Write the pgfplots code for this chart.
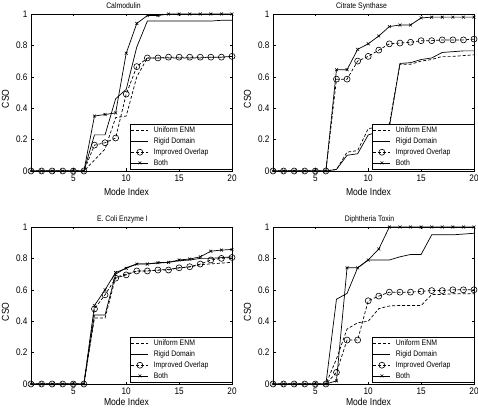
\documentclass[border=0pt]{standalone}
\usepackage{fontspec}
\setmainfont{Liberation Sans}[FakeStretch=0.86]
\usepackage{pgfplots}
\usepackage{pgfplotstable}
\pgfplotsset{compat=1.18}

% columns: x, uniform ENM, rigid domain, improved overlap, both
\pgfplotstableread{
x u r i b
1 0 0 0 0
2 0 0 0 0
3 0 0 0 0
4 0 0 0 0
5 0 0 0 0
6 0 0 0 0
7 0.07 0.23 0.165 0.35
8 0.14 0.23 0.18 0.36
9 0.34 0.46 0.21 0.37
10 0.35 0.52 0.49 0.75
11 0.60 0.79 0.665 0.94
12 0.72 0.955 0.72 0.99
13 0.72 0.955 0.72 0.99
14 0.72 0.955 0.725 1.0
15 0.72 0.955 0.725 1.0
16 0.72 0.955 0.725 1.0
17 0.72 0.955 0.725 1.0
18 0.725 0.955 0.725 1.0
19 0.725 0.96 0.725 1.0
20 0.73 0.96 0.73 1.0
}\calm

\pgfplotstableread{
x u r i b
1 0 0 0 0
2 0 0 0 0
3 0 0 0 0
4 0 0 0 0
5 0 0 0 0
6 0 0 0 0
7 0.01 0.01 0.585 0.645
8 0.12 0.10 0.585 0.645
9 0.13 0.11 0.70 0.775
10 0.27 0.23 0.73 0.81
11 0.28 0.25 0.77 0.86
12 0.30 0.28 0.81 0.92
13 0.68 0.685 0.815 0.93
14 0.68 0.69 0.82 0.93
15 0.70 0.71 0.83 0.975
16 0.71 0.72 0.83 0.98
17 0.73 0.755 0.835 0.98
18 0.73 0.76 0.835 0.98
19 0.735 0.765 0.835 0.98
20 0.74 0.765 0.84 0.98
}\citr

\pgfplotstableread{
x u r i b
1 0 0 0 0
2 0 0 0 0
3 0 0 0 0
4 0 0 0 0
5 0 0 0 0
6 0 0 0 0
7 0.42 0.44 0.478 0.50
8 0.42 0.44 0.568 0.60
9 0.68 0.70 0.674 0.71
10 0.70 0.74 0.695 0.737
11 0.72 0.765 0.72 0.764
12 0.72 0.765 0.72 0.764
13 0.725 0.77 0.726 0.773
14 0.73 0.775 0.726 0.775
15 0.74 0.785 0.74 0.79
16 0.745 0.79 0.747 0.796
17 0.76 0.80 0.764 0.81
18 0.765 0.80 0.79 0.846
19 0.77 0.805 0.80 0.853
20 0.775 0.81 0.806 0.857
}\ecoli

\pgfplotstableread{
x u r i b
1 0 0 0 0
2 0 0 0 0
3 0 0 0 0
4 0 0 0 0
5 0 0 0 0
6 0 0 0 0
7 0.16 0.54 0.074 0.02
8 0.35 0.577 0.28 0.74
9 0.39 0.74 0.28 0.74
10 0.40 0.79 0.53 0.79
11 0.48 0.79 0.56 0.86
12 0.497 0.79 0.585 1.0
13 0.50 0.81 0.585 1.0
14 0.50 0.825 0.585 1.0
15 0.50 0.825 0.59 1.0
16 0.57 0.95 0.595 1.0
17 0.57 0.95 0.595 1.0
18 0.575 0.95 0.60 1.0
19 0.575 0.955 0.60 1.0
20 0.575 0.96 0.60 1.0
}\diph

\pgfplotsset{
  cso/.style={
    scale only axis, width=201pt, height=157pt,
    xmin=1, xmax=20, ymin=0, ymax=1,
    xtick={5,10,15,20}, ytick={0,0.2,0.4,0.6,0.8,1},
    tick align=inside, major tick length=2.5pt,
    axis line style={line width=0.5pt},
    tick style={line width=0.5pt, black},
    /pgf/number format/assume math mode=true,
    yticklabel style={/pgf/number format/fixed, font=\fontsize{9.5}{10}\selectfont},
    xticklabel style={font=\fontsize{9.5}{10}\selectfont},
    xlabel={Mode Index}, ylabel={CSO},
    xlabel style={font=\fontsize{10}{12}\selectfont, anchor=base},
    ylabel style={font=\fontsize{10}{12}\selectfont, at={(axis description cs:-0.127,0.46)}, anchor=center},
    title style={font=\fontsize{8}{9}\selectfont, anchor=base, yshift=-0.4pt},
    legend style={at={(1,0)}, anchor=south east, xshift=0pt, yshift=1.7pt,
      font=\fontsize{8}{9.5}\selectfont, draw=black, line width=0.5pt,
      inner xsep=1pt, inner ysep=0.5pt, row sep=-0.6pt},
    legend cell align=left,
    legend image code/.code={\draw[mark repeat=2,mark phase=2,#1] plot coordinates {(0pt,0pt) (8.5pt,0pt) (17pt,0pt)};},
    every axis plot/.append style={line width=0.7pt, black},
  },
  toprow/.style={xlabel style={at={(axis description cs:0.475,0)}, yshift=-25pt}},
  botrow/.style={xlabel style={at={(axis description cs:0.475,0)}, yshift=-21pt}},
  uni/.style={dash pattern=on 3pt off 2pt, mark=none},
  rig/.style={solid, mark=none},
  imp/.style={dash pattern=on 3pt off 2pt, mark=o, mark size=3pt, mark options={solid, line width=0.6pt}},
  bot/.style={solid, mark=x, mark size=2pt, mark options={solid, line width=0.6pt}},
}
\newcommand{\lgw}[1]{\hspace{3pt}\makebox[75pt][l]{#1}}

\begin{document}
\begin{tikzpicture}
\path[use as bounding box] (0,0) rectangle (478pt,412pt);

\begin{axis}[cso, toprow, at={(31pt,241pt)}, anchor=south west, title={Calmodulin},
  title style={at={(axis description cs:0.46,1)}}]
\addplot[uni] table[x=x,y=u] {\calm};
\addplot[rig] table[x=x,y=r] {\calm};
\addplot[imp] table[x=x,y=i] {\calm};
\addplot[bot] table[x=x,y=b] {\calm};
\legend{\lgw{Uniform ENM}, \lgw{Rigid Domain}, \lgw{Improved Overlap}, \lgw{Both}}
\end{axis}

\begin{axis}[cso, toprow, at={(273pt,241pt)}, anchor=south west, title={Citrate Synthase},
  title style={at={(axis description cs:0.44,1)}}]
\addplot[uni] table[x=x,y=u] {\citr};
\addplot[rig] table[x=x,y=r] {\citr};
\addplot[imp] table[x=x,y=i] {\citr};
\addplot[bot] table[x=x,y=b] {\citr};
\legend{\lgw{Uniform ENM}, \lgw{Rigid Domain}, \lgw{Improved Overlap}, \lgw{Both}}
\end{axis}

\begin{axis}[cso, botrow, at={(31pt,28pt)}, anchor=south west, title={E. Coli Enzyme I},
  title style={at={(axis description cs:0.455,1)}}]
\addplot[uni] table[x=x,y=u] {\ecoli};
\addplot[rig] table[x=x,y=r] {\ecoli};
\addplot[imp] table[x=x,y=i] {\ecoli};
\addplot[bot] table[x=x,y=b] {\ecoli};
\legend{\lgw{Uniform ENM}, \lgw{Rigid Domain}, \lgw{Improved Overlap}, \lgw{Both}}
\end{axis}

\begin{axis}[cso, botrow, at={(273pt,28pt)}, anchor=south west, title={Diphtheria Toxin},
  title style={at={(axis description cs:0.48,1)}}]
\addplot[uni] table[x=x,y=u] {\diph};
\addplot[rig] table[x=x,y=r] {\diph};
\addplot[imp] table[x=x,y=i] {\diph};
\addplot[bot] table[x=x,y=b] {\diph};
\legend{\lgw{Uniform ENM}, \lgw{Rigid Domain}, \lgw{Improved Overlap}, \lgw{Both}}
\end{axis}
\end{tikzpicture}
\end{document}
